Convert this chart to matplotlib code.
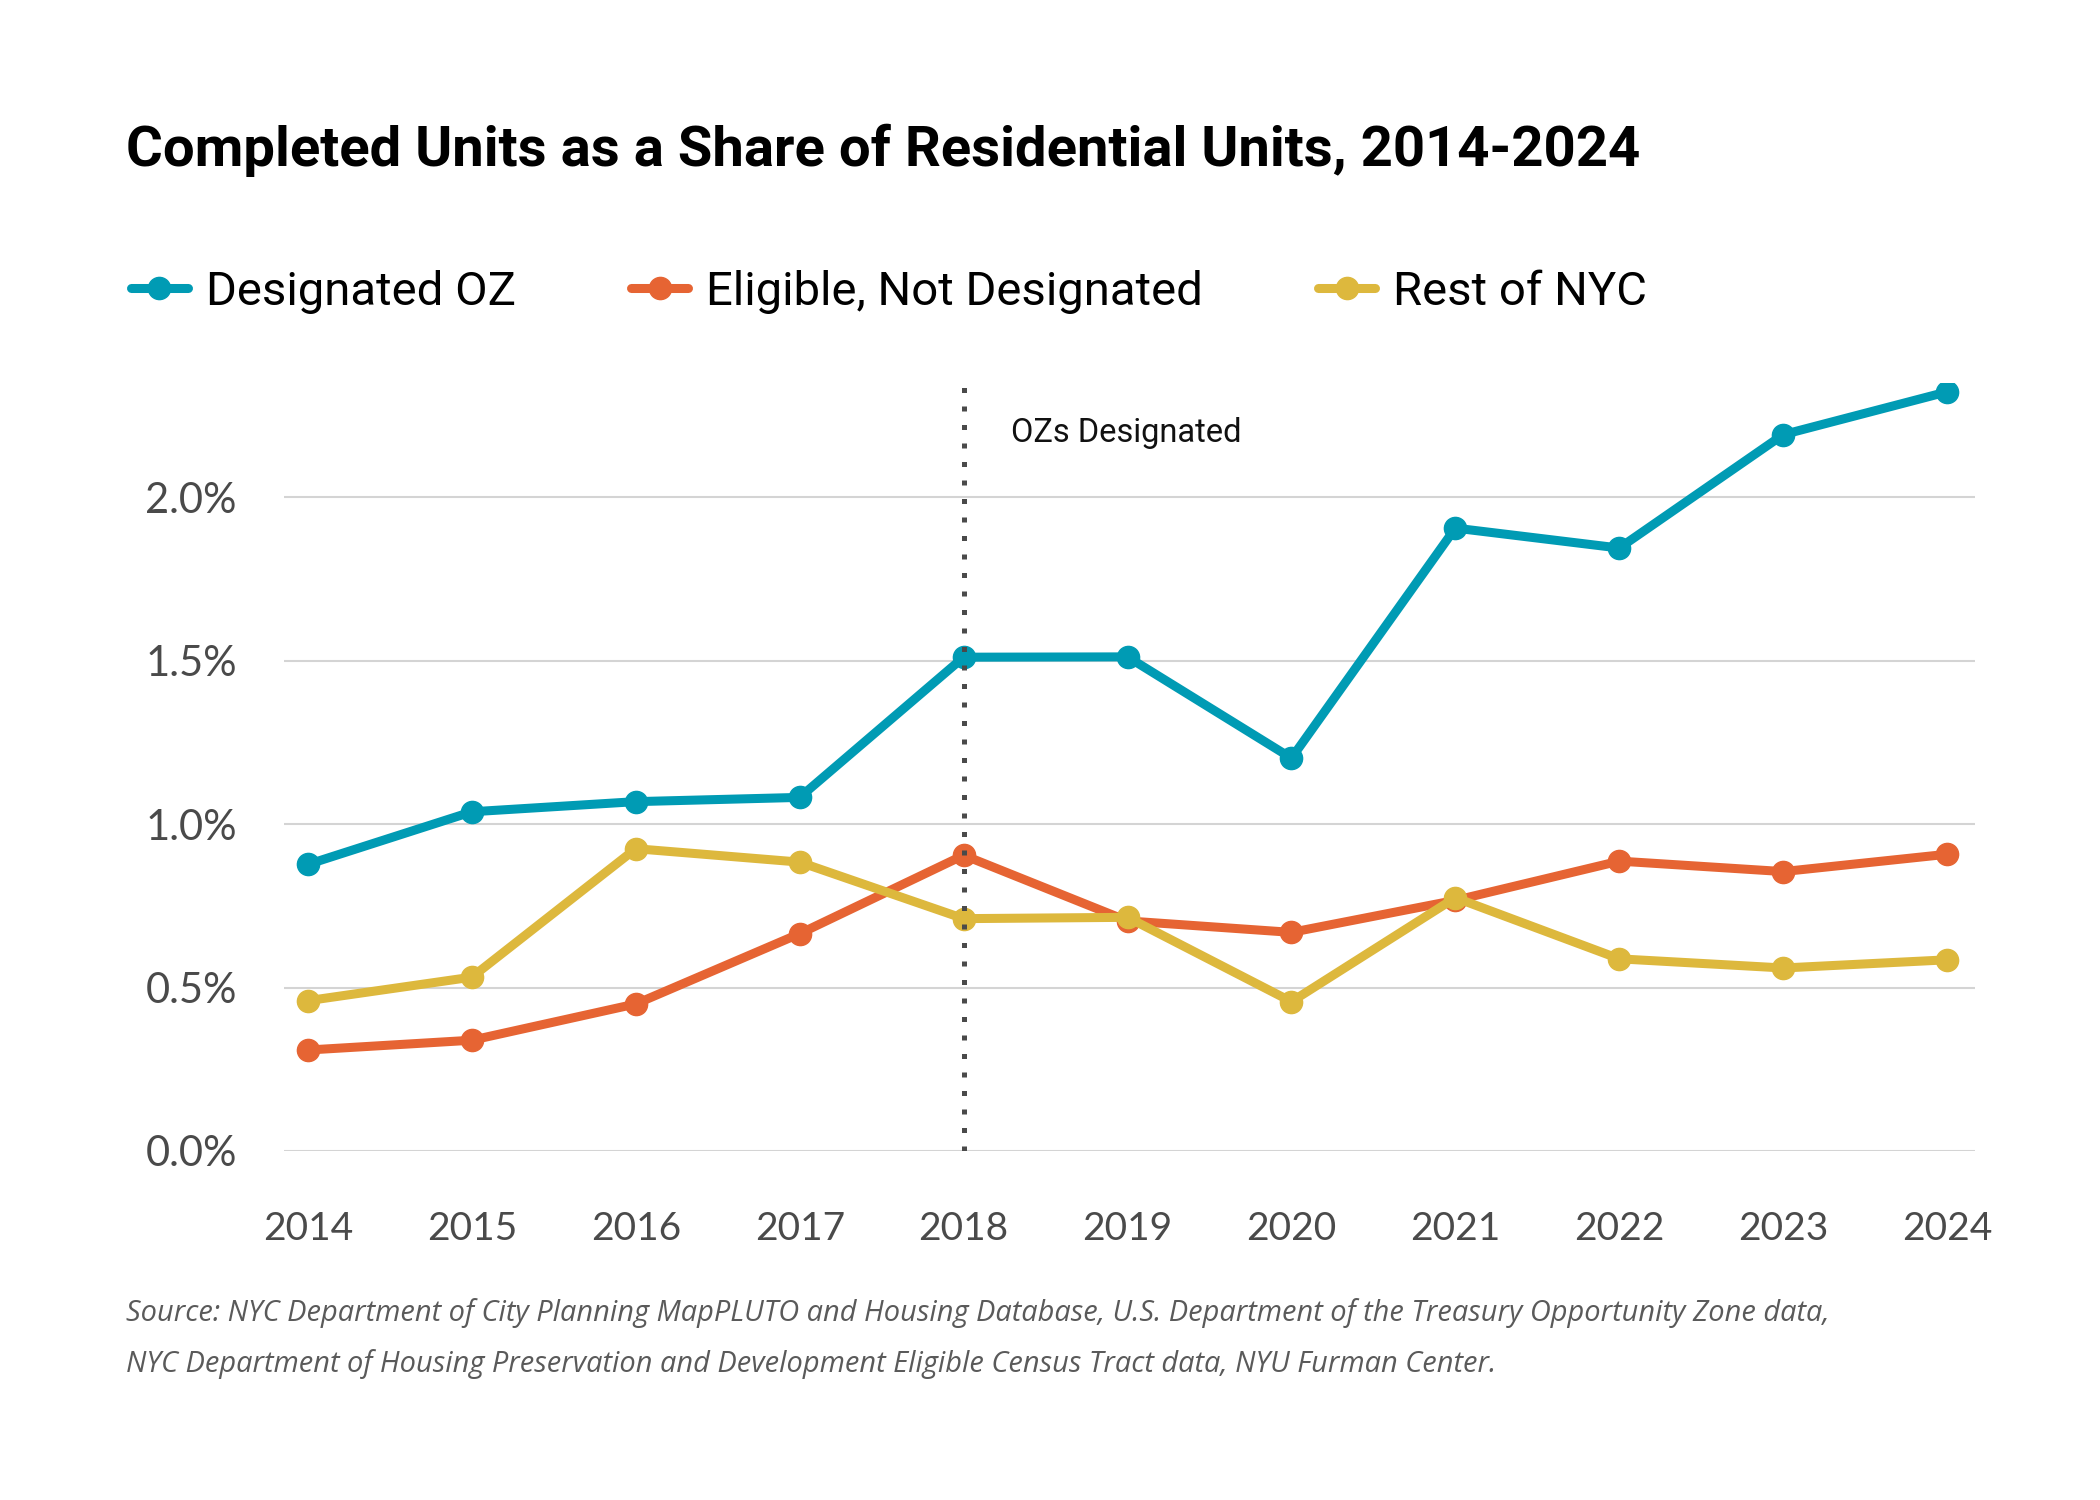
import matplotlib
matplotlib.use("Agg")
import matplotlib.pyplot as plt
from matplotlib.ticker import FuncFormatter

# values (percent of residential units)
years = list(range(2014, 2025))
designated_oz = [0.877, 1.038, 1.069, 1.082, 1.511, 1.512, 1.202, 1.906, 1.845, 2.192, 2.323]
eligible_not_designated = [0.309, 0.339, 0.450, 0.665, 0.905, 0.704, 0.669, 0.767, 0.887, 0.855, 0.908]
rest_of_nyc = [0.460, 0.532, 0.925, 0.884, 0.711, 0.715, 0.457, 0.775, 0.588, 0.560, 0.585]
series_labels = ["Designated OZ", "Eligible, Not Designated", "Rest of NYC"]
series_colors = ["#009BB4", "#E66433", "#DDB83D"]
y_ticks = [0.0, 0.5, 1.0, 1.5, 2.0]
designation_year = 2018

TITLE = "Completed Units as a Share of Residential Units, 2014-2024"
SOURCE = [
    "Source: NYC Department of City Planning MapPLUTO and Housing Database, "
    "U.S. Department of the Treasury Opportunity Zone data,",
    "NYC Department of Housing Preservation and Development Eligible Census "
    "Tract data, NYU Furman Center.",
]

W, H = 2100, 1500
COND = ["Roboto", "DejaVu Sans"]
TICK = ["Lato", "DejaVu Sans"]

fig = plt.figure(figsize=(W / 100, H / 100), dpi=100)
fig.patch.set_facecolor("white")
ax = fig.add_axes([284 / W, 1 - 1151 / H, (1975 - 284) / W, (1151 - 383) / H])

lines = []
for vals, lab, col in zip([designated_oz, eligible_not_designated, rest_of_nyc],
                          series_labels, series_colors):
    ln, = ax.plot(years, vals, color=col, lw=6.5, marker="o", markersize=16,
                  solid_capstyle="round", label=lab, zorder=3)
    lines.append(ln)

ax.axvline(designation_year, color="#4a4a4a", lw=3.6, linestyle=(0, (1, 2.7)), zorder=5)
ax.text(designation_year + 0.29, 2.196, "OZs Designated", fontsize=23.5,
        family=COND, va="center", ha="left", color="#111111")

ax.set_xlim(2013.854, 2024.17)
ax.set_ylim(0, 2.35)
ax.set_xticks(years)
ax.set_yticks(y_ticks)
ax.yaxis.set_major_formatter(FuncFormatter(lambda v, _: f"{v:.1f}%"))
ax.grid(axis="y", color="#d4d4d4", lw=1.5, zorder=0)
ax.set_axisbelow(True)
for s in ax.spines.values():
    s.set_visible(False)
ax.tick_params(axis="both", length=0, labelcolor="#4a4a4a")
ax.tick_params(axis="x", pad=43, labelsize=28)
ax.tick_params(axis="y", pad=34, labelsize=30)
for lab in ax.get_xticklabels() + ax.get_yticklabels():
    lab.set_family(TICK)

fig.text(126 / W, 1 - 150 / H, TITLE, fontsize=40.5, weight="bold", family=COND,
         va="center", ha="left", color="black")

fig.legend(lines, series_labels, loc="center left",
           bbox_to_anchor=(131 / W, 1 - 292 / H), ncol=3, frameon=False,
           handlelength=1.2, handletextpad=0.38, columnspacing=2.45,
           borderpad=0, borderaxespad=0, prop={"family": COND, "size": 34})

for i, line in enumerate(SOURCE):
    fig.text(126 / W, 1 - (1313 + 51 * i) / H, line, fontsize=20.9, style="italic",
             family=["Open Sans", "DejaVu Sans"], color="#5a5a5a",
             va="center", ha="left")

fig.savefig("out.png", dpi=100, facecolor="white")
